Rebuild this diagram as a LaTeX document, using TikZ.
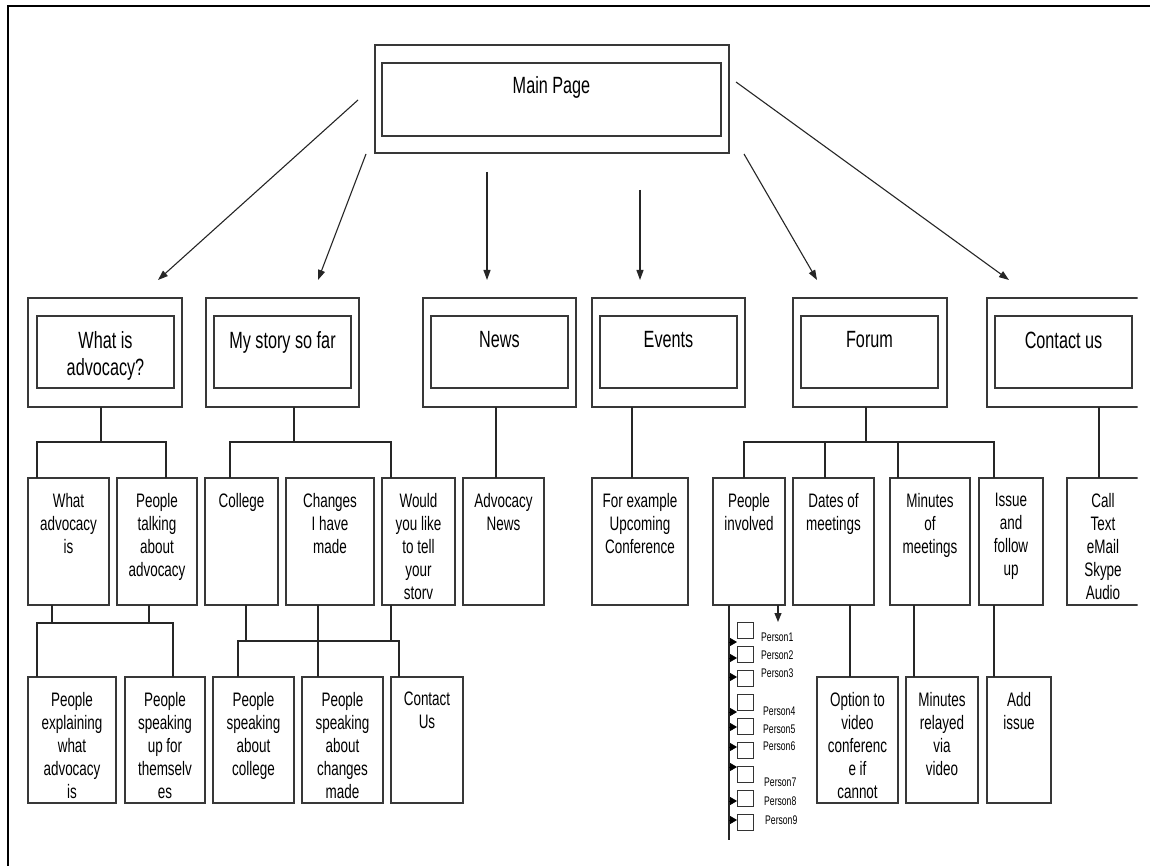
\documentclass[tikz,border=0pt]{standalone}
\usepackage{fontspec}
\setmainfont{Liberation Sans}[FakeStretch=0.69]
\usetikzlibrary{arrows.meta,fit}

\begin{document}
\begin{tikzpicture}[x=1pt,y=-1pt,
  box/.style={draw=black!78, line width=1.3pt, inner sep=0pt, outer sep=0pt},
  cbox/.style={draw=black!80, line width=1pt, inner sep=0pt, outer sep=0pt},
  biglbl/.style={font=\fontsize{23.5}{27}\selectfont, align=center, inner sep=0pt, anchor=north},
  lbl/.style={font=\fontsize{19.5}{23}\selectfont, align=center, inner sep=0pt, anchor=north},
  plbl/.style={font=\fontsize{12.5}{14}\selectfont, inner sep=0pt, anchor=west},
  conn/.style={draw=black!85, line width=1.1pt},
  arr/.style={draw=black!85, line width=1.1pt, -{Triangle[length=10pt,width=7pt]}},
  parr/.style={draw=black, line width=0.8pt, -{Triangle[length=7pt,width=8pt]}},
]
\useasboundingbox (0,0) rectangle (1150,866);
\fill[white] (0,0) rectangle (1150,866);

% page frame
\draw[line width=2.6pt] (8,866) -- (8,6) -- (1150,6);

\begin{scope}
\clip (0,0) rectangle (1137.5,866);

% ---------- main page ----------
\node[box, fit={(375,45) (729,153)}] (main) {};
\node[box, fit={(382,63) (721,136)}] (main-in) {};
\node[biglbl] (main-t) at ([yshift=-13.5pt]main-in.north) {Main Page};

% ---------- second level ----------
\node[box, fit={(28,298) (182,407)}] (adv) {};
\node[box, fit={(37,316) (174,388)}] (adv-in) {};
\node[biglbl] (adv-t) at ([yshift=-15.5pt]adv-in.north) {What is\\advocacy?};

\node[box, fit={(206,298) (359,407)}] (story) {};
\node[box, fit={(214,316) (351,388)}] (story-in) {};
\node[biglbl] (story-t) at ([yshift=-15.5pt]story-in.north) {My story so far};

\node[box, fit={(423,298) (576,407)}] (news) {};
\node[box, fit={(431,316) (568,388)}] (news-in) {};
\node[biglbl] (news-t) at ([yshift=-15.5pt]news-in.north) {News};

\node[box, fit={(592,298) (745,407)}] (events) {};
\node[box, fit={(600,316) (737,388)}] (events-in) {};
\node[biglbl] (events-t) at ([yshift=-15.5pt]events-in.north) {Events};

\node[box, fit={(793,298) (947,407)}] (forum) {};
\node[box, fit={(801,316) (938,388)}] (forum-in) {};
\node[biglbl] (forum-t) at ([yshift=-15.5pt]forum-in.north) {Forum};

\node[box, fit={(987,298) (1141,407)}] (contact) {};
\node[box, fit={(995,316) (1132,388)}] (contact-in) {};
\node[biglbl] (contact-t) at ([yshift=-15.5pt]contact-in.north) {Contact us};

% arrows from the main page
\coordinate (s1) at (358,100);  \coordinate (e1) at (158,280);
\coordinate (s2) at (366,154);  \coordinate (e2) at (318,280);
\coordinate (s3) at (487,172);  \coordinate (e3) at (487,280);
\coordinate (s4) at (640,190);  \coordinate (e4) at (640,280);
\coordinate (s5) at (744,154);  \coordinate (e5) at (817,280);
\coordinate (s6) at (736,82);   \coordinate (e6) at (1009,280);
\foreach \k in {1,...,6} {\draw[arr] (s\k) -- (e\k);}

% ---------- third level ----------
\node[box, fit={(28,478) (109,605)}] (advis) {};
\node[lbl] (advis-t) at ([yshift=-15pt]advis.north) {What\\advocacy\\is};
\node[box, fit={(117,478) (197,605)}] (talk) {};
\node[lbl] (talk-t) at ([yshift=-15pt]talk.north) {People\\talking\\about\\advocacy};
\node[box, fit={(205,478) (278,605)}] (college) {};
\node[lbl] (college-t) at ([yshift=-15pt]college.north) {College};
\node[box, fit={(286,478) (374,605)}] (changes) {};
\node[lbl] (changes-t) at ([yshift=-15pt]changes.north) {Changes\\I have\\made};
\node[box, fit={(382,478) (455,605)}] (would) {};
\node[lbl] (would-t) at ([yshift=-15pt]would.north) {Would\\you like\\to tell\\your\\storv};
\node[box, fit={(463,478) (544,605)}] (advnews) {};
\node[lbl] (advnews-t) at ([yshift=-15pt]advnews.north) {Advocacy\\News};
\node[box, fit={(592,478) (688,605)}] (forex) {};
\node[lbl] (forex-t) at ([yshift=-15pt]forex.north) {For example\\Upcoming\\Conference};
\node[box, fit={(713,478) (785,605)}] (involved) {};
\node[lbl] (involved-t) at ([yshift=-15pt]involved.north) {People\\involved};
\node[box, fit={(793,478) (874,605)}] (dates) {};
\node[lbl] (dates-t) at ([yshift=-15pt]dates.north) {Dates of\\meetings};
\node[box, fit={(890,478) (970,605)}] (minutes) {};
\node[lbl] (minutes-t) at ([yshift=-15pt]minutes.north) {Minutes\\of\\meetings};
\node[box, fit={(979,478) (1043,605)}] (issue) {};
\node[lbl] (issue-t) at ([yshift=-15pt]issue.north) {Issue\\and\\follow\\up};
\node[box, fit={(1067,478) (1139,605)}] (call) {};
\node[lbl] (call-t) at ([yshift=-15pt]call.north) {Call\\Text\\eMail\\Skype\\Audio};

% ---------- fourth level ----------
\node[box, fit={(28,677) (116,803)}] (explain) {};
\node[lbl] (explain-t) at ([yshift=-15pt]explain.north) {People\\explaining\\what\\advocacy\\is};
\node[box, fit={(125,677) (205,803)}] (speakup) {};
\node[lbl] (speakup-t) at ([yshift=-15pt]speakup.north) {People\\speaking\\up for\\themselv\\es};
\node[box, fit={(213,677) (294,803)}] (spcollege) {};
\node[lbl] (spcollege-t) at ([yshift=-15pt]spcollege.north) {People\\speaking\\about\\college};
\node[box, fit={(302,677) (383,803)}] (spchanges) {};
\node[lbl] (spchanges-t) at ([yshift=-15pt]spchanges.north) {People\\speaking\\about\\changes\\made};
\node[box, fit={(391,677) (463,803)}] (contactus) {};
\node[lbl] (contactus-t) at ([yshift=-15pt]contactus.north) {Contact\\Us};
\node[box, fit={(817,677) (898,803)}] (option) {};
\node[lbl] (option-t) at ([yshift=-15pt]option.north) {Option to\\video\\conferenc\\e if\\cannot};
\node[box, fit={(906,677) (978,803)}] (relayed) {};
\node[lbl] (relayed-t) at ([yshift=-15pt]relayed.north) {Minutes\\relayed\\via\\video};
\node[box, fit={(987,677) (1051,803)}] (addissue) {};
\node[lbl] (addissue-t) at ([yshift=-15pt]addissue.north) {Add\\issue};

% ---------- connectors, level 2 to level 3 ----------
\coordinate (ba) at (101,442); \coordinate (ba1) at (37,442); \coordinate (ba2) at (166,442);
\draw[conn] (adv.south -| ba) -- (ba);
\draw[conn] (advis.north -| ba1) -- (ba1) -- (ba2) -- (talk.north -| ba2);

\coordinate (bs) at (294,442); \coordinate (bs1) at (230,442); \coordinate (bs2) at (391,442);
\draw[conn] (story.south -| bs) -- (bs);
\draw[conn] (college.north -| bs1) -- (bs1) -- (bs2) -- (would.north -| bs2);

\coordinate (bn) at (496,0);
\draw[conn] (news.south -| bn) -- (advnews.north -| bn);
\coordinate (be) at (632,0);
\draw[conn] (events.south -| be) -- (forex.north -| be);

\coordinate (bf) at (866,442); \coordinate (bf1) at (744,442); \coordinate (bf2) at (825,442);
\coordinate (bf3) at (898,442); \coordinate (bf4) at (994,442);
\draw[conn] (forum.south -| bf) -- (bf);
\draw[conn] (involved.north -| bf1) -- (bf1) -- (bf4) -- (issue.north -| bf4);
\draw[conn] (dates.north -| bf2) -- (bf2);
\draw[conn] (minutes.north -| bf3) -- (bf3);

\coordinate (bc) at (1099,0);
\draw[conn] (contact.south -| bc) -- (call.north -| bc);

% ---------- connectors, level 3 to level 4 ----------
\coordinate (bl1) at (37,623); \coordinate (bl2) at (173,623);
\coordinate (bl3) at (52,623); \coordinate (bl4) at (149,623);
\draw[conn] (advis.south -| bl3) -- (bl3);
\draw[conn] (talk.south -| bl4) -- (bl4);
\draw[conn] (explain.north -| bl1) -- (bl1) -- (bl2) -- (speakup.north -| bl2);

\coordinate (bm1) at (238,641); \coordinate (bm2) at (399,641);
\coordinate (bm3) at (246,641); \coordinate (bm4) at (391,641);
\coordinate (bm5) at (318,0);
\draw[conn] (college.south -| bm3) -- (bm3);
\draw[conn] (would.south -| bm4) -- (bm4);
\draw[conn] (spcollege.north -| bm1) -- (bm1) -- (bm2) -- (contactus.north -| bm2);
\draw[conn] (changes.south -| bm5) -- (spchanges.north -| bm5);

\coordinate (br1) at (850,0); \coordinate (br2) at (914,0); \coordinate (br3) at (994,0);
\draw[conn] (dates.south -| br1) -- (option.north -| br1);
\draw[conn] (minutes.south -| br2) -- (relayed.north -| br2);
\draw[conn] (issue.south -| br3) -- (addissue.north -| br3);

% ---------- list of people ----------
\coordinate (pl) at (729,840);
\draw[conn] (involved.south -| pl) -- (pl);
\coordinate (dn) at (778,622);
\draw[conn, -{Triangle[length=9pt,width=7pt]}] (involved.south -| dn) -- (dn);

\foreach \i/\t/\a/\l/\lx in {1/622/642/637/761, 2/646/658/655/761, 3/670/677/673/761,
                             4/694/712/711/763, 5/718/727/729/763, 6/742/747/746/763,
                             7/766/767/782/764, 8/790/801/801/764, 9/814/820/820/765} {
  \node[cbox, fit={(737,\t) (753,\t+16)}] (cb\i) {};
  \draw[parr] (pl |- 0,\a) -- (cb\i.west |- 0,\a);
  \node[plbl] (pn\i) at (\lx,\l) {Person\i};
}
\end{scope}
\end{tikzpicture}
\end{document}
